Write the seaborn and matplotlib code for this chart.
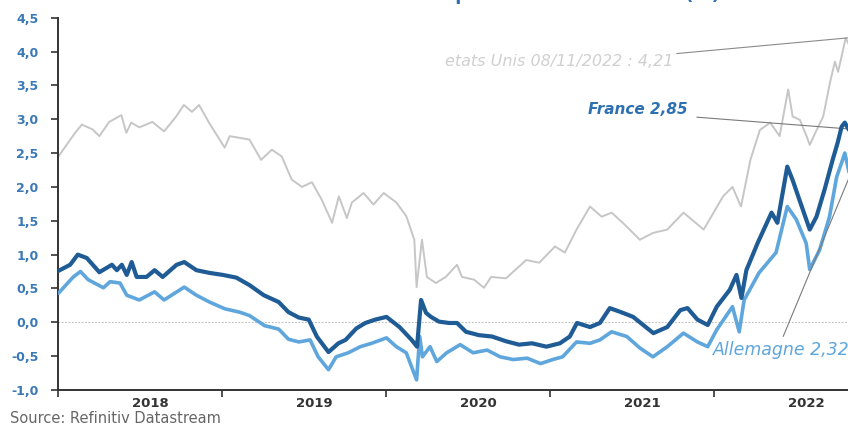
import matplotlib
matplotlib.use("Agg")
import matplotlib.pyplot as plt
import matplotlib.dates as mdates
import matplotlib.ticker as mticker
import pandas as pd
import seaborn as sns

# 10-year government bond yields (%), readings from Refinitiv Datastream
us_dates = [
    "2018-01-02", "2018-02-07", "2018-02-23", "2018-03-19", "2018-04-03", "2018-04-25",
    "2018-05-22", "2018-06-02", "2018-06-13", "2018-07-01", "2018-07-30", "2018-08-25",
    "2018-09-21", "2018-10-08", "2018-10-26", "2018-11-11", "2018-12-03", "2019-01-07",
    "2019-01-18", "2019-03-03", "2019-03-29", "2019-04-22", "2019-05-14", "2019-06-05",
    "2019-06-28", "2019-07-20", "2019-08-11", "2019-09-03", "2019-09-18", "2019-10-06",
    "2019-10-17", "2019-11-12", "2019-12-04", "2019-12-27", "2020-01-24", "2020-02-15",
    "2020-03-04", "2020-03-09", "2020-03-21", "2020-04-01", "2020-04-21", "2020-05-13",
    "2020-06-07", "2020-06-18", "2020-07-15", "2020-08-06", "2020-08-22", "2020-09-24",
    "2020-11-08", "2020-12-07", "2021-01-11", "2021-02-02", "2021-02-28", "2021-03-30",
    "2021-04-25", "2021-05-17", "2021-06-11", "2021-07-19", "2021-08-17", "2021-09-18",
    "2021-10-24", "2021-12-08", "2021-12-30", "2022-01-20", "2022-02-10", "2022-03-01",
    "2022-03-22", "2022-04-12", "2022-05-05", "2022-05-26", "2022-06-14", "2022-06-24",
    "2022-07-10", "2022-07-25", "2022-08-01", "2022-08-17", "2022-08-31", "2022-09-15",
    "2022-09-26", "2022-10-03", "2022-10-11", "2022-10-20", "2022-10-31", "2022-11-08",
]
us_values = [
    2.45, 2.79, 2.92, 2.85, 2.75, 2.96,
    3.06, 2.80, 2.95, 2.88, 2.96, 2.82,
    3.04, 3.21, 3.11, 3.21, 2.95, 2.58,
    2.75, 2.70, 2.40, 2.55, 2.45, 2.11,
    2.00, 2.07, 1.81, 1.47, 1.86, 1.54,
    1.77, 1.91, 1.74, 1.91, 1.77, 1.57,
    1.22, 0.52, 1.22, 0.67, 0.58, 0.67,
    0.85, 0.67, 0.63, 0.51, 0.67, 0.65,
    0.92, 0.88, 1.12, 1.03, 1.37, 1.71,
    1.56, 1.62, 1.47, 1.22, 1.32, 1.37,
    1.62, 1.37, 1.62, 1.86, 2.00, 1.71,
    2.40, 2.84, 2.95, 2.75, 3.44, 3.04,
    2.99, 2.75, 2.62, 2.85, 3.04, 3.54,
    3.85, 3.70, 3.93, 4.20, 4.05, 4.21,
]

fr_dates = [
    "2018-01-02", "2018-01-28", "2018-02-14", "2018-03-06", "2018-04-03", "2018-05-01",
    "2018-05-12", "2018-05-23", "2018-06-03", "2018-06-14", "2018-06-25", "2018-07-17",
    "2018-08-04", "2018-08-22", "2018-09-22", "2018-10-09", "2018-11-05", "2018-12-04",
    "2019-01-03", "2019-02-02", "2019-03-03", "2019-04-04", "2019-05-07", "2019-05-29",
    "2019-06-21", "2019-07-13", "2019-07-31", "2019-08-26", "2019-09-17", "2019-10-03",
    "2019-10-27", "2019-11-16", "2019-12-08", "2020-01-02", "2020-01-31", "2020-02-27",
    "2020-03-10", "2020-03-19", "2020-03-30", "2020-04-10", "2020-04-28", "2020-05-20",
    "2020-06-07", "2020-06-27", "2020-07-26", "2020-08-24", "2020-09-24", "2020-10-23",
    "2020-11-21", "2020-12-23", "2021-01-22", "2021-02-13", "2021-03-01", "2021-03-30",
    "2021-04-21", "2021-05-13", "2021-06-11", "2021-07-04", "2021-08-18", "2021-09-18",
    "2021-10-17", "2021-11-02", "2021-11-24", "2021-12-17", "2022-01-06", "2022-02-04",
    "2022-02-19", "2022-03-02", "2022-03-13", "2022-04-07", "2022-05-08", "2022-05-21",
    "2022-06-12", "2022-06-24", "2022-07-09", "2022-08-01", "2022-08-16", "2022-09-03",
    "2022-09-21", "2022-10-02", "2022-10-11", "2022-10-18", "2022-10-31", "2022-11-08",
]
fr_values = [
    0.76, 0.85, 1.00, 0.95, 0.74, 0.85,
    0.77, 0.85, 0.70, 0.89, 0.67, 0.67,
    0.77, 0.67, 0.85, 0.89, 0.77, 0.73,
    0.70, 0.66, 0.55, 0.40, 0.30, 0.15,
    0.07, 0.04, -0.21, -0.44, -0.31, -0.26,
    -0.09, -0.01, 0.04, 0.08, -0.07, -0.26,
    -0.36, 0.33, 0.14, 0.08, 0.01, -0.01,
    -0.01, -0.14, -0.19, -0.21, -0.28, -0.33,
    -0.31, -0.36, -0.31, -0.21, -0.01, -0.07,
    -0.01, 0.21, 0.14, 0.08, -0.16, -0.07,
    0.18, 0.21, 0.04, -0.04, 0.23, 0.48,
    0.70, 0.36, 0.77, 1.17, 1.62, 1.47,
    2.30, 2.10, 1.81, 1.37, 1.56, 1.96,
    2.40, 2.65, 2.89, 2.95, 2.80, 2.85,
]

de_dates = [
    "2018-01-02", "2018-02-04", "2018-02-20", "2018-03-09", "2018-04-12", "2018-04-27",
    "2018-05-19", "2018-06-03", "2018-07-01", "2018-08-04", "2018-08-25", "2018-10-09",
    "2018-11-05", "2018-12-04", "2019-01-07", "2019-02-09", "2019-03-03", "2019-04-06",
    "2019-05-07", "2019-05-29", "2019-06-21", "2019-07-16", "2019-08-03", "2019-08-26",
    "2019-09-12", "2019-10-09", "2019-11-05", "2019-11-30", "2020-01-02", "2020-01-24",
    "2020-02-15", "2020-03-09", "2020-03-16", "2020-03-22", "2020-04-08", "2020-04-23",
    "2020-05-15", "2020-06-14", "2020-07-13", "2020-08-13", "2020-09-11", "2020-10-10",
    "2020-11-10", "2020-12-10", "2021-01-06", "2021-01-28", "2021-02-28", "2021-03-30",
    "2021-04-21", "2021-05-17", "2021-06-20", "2021-07-19", "2021-08-17", "2021-09-18",
    "2021-10-24", "2021-11-24", "2021-12-17", "2022-01-06", "2022-02-10", "2022-02-25",
    "2022-03-08", "2022-04-10", "2022-05-18", "2022-06-12", "2022-07-02", "2022-07-24",
    "2022-08-01", "2022-08-23", "2022-09-14", "2022-09-30", "2022-10-11", "2022-10-18",
    "2022-10-28", "2022-11-08",
]
de_values = [
    0.43, 0.67, 0.75, 0.63, 0.51, 0.60,
    0.58, 0.40, 0.33, 0.45, 0.33, 0.52,
    0.40, 0.30, 0.20, 0.15, 0.10, -0.05,
    -0.10, -0.25, -0.29, -0.26, -0.51, -0.70,
    -0.51, -0.45, -0.36, -0.31, -0.23, -0.36,
    -0.45, -0.85, -0.21, -0.51, -0.36, -0.58,
    -0.45, -0.33, -0.45, -0.41, -0.51, -0.55,
    -0.53, -0.61, -0.55, -0.51, -0.29, -0.31,
    -0.26, -0.14, -0.21, -0.38, -0.51, -0.36,
    -0.16, -0.29, -0.36, -0.11, 0.23, -0.14,
    0.33, 0.73, 1.03, 1.71, 1.52, 1.17,
    0.78, 1.07, 1.56, 2.15, 2.36, 2.50,
    2.20, 2.32,
]

y_ticks = [-1.0, -0.5, 0.0, 0.5, 1.0, 1.5, 2.0, 2.5, 3.0, 3.5, 4.0, 4.5]

us_label = "etats Unis 08/11/2022 : 4,21"
fr_label = "France 2,85"
de_label = "Allemagne 2,32"
title = "Rendement des emprunts d'État à 10 ans (%)"
source = "Source: Refinitiv Datastream"

GRAY = "#c6c6c6"
DARK_BLUE = "#1f5c96"
LIGHT_BLUE = "#5ea6dc"
TICK_BLUE = "#3a78b6"

us = pd.DataFrame({"date": pd.to_datetime(us_dates), "taux": us_values})
fr = pd.DataFrame({"date": pd.to_datetime(fr_dates), "taux": fr_values})
de = pd.DataFrame({"date": pd.to_datetime(de_dates), "taux": de_values})

sns.set_theme(style="white")
plt.rcParams["font.family"] = ["DejaVu Sans"]

fig = plt.figure(figsize=(8.48, 4.26), dpi=100)
ax = fig.add_axes([0.0684, 0.0845, 0.940, 0.874])

ax.axhline(0, color="#bdbdbd", lw=0.8, ls=(0, (1.5, 1.5)), zorder=1)

sns.lineplot(data=us, x="date", y="taux", ax=ax, color=GRAY, lw=1.4,
             estimator=None, sort=False, zorder=2)
sns.lineplot(data=de, x="date", y="taux", ax=ax, color=LIGHT_BLUE, lw=2.6,
             estimator=None, sort=False, zorder=3)
sns.lineplot(data=fr, x="date", y="taux", ax=ax, color=DARK_BLUE, lw=3.0,
             estimator=None, sort=False, zorder=4)

ax.set_xlim(pd.Timestamp("2018-01-01"), pd.Timestamp("2022-11-10"))
ax.set_ylim(-1.0, 4.5)
ax.set_xlabel("")
ax.set_ylabel("")

# Year boundaries as tick marks, year names placed inside each year
ax.xaxis.set_major_locator(mdates.YearLocator())
ax.xaxis.set_major_formatter(mticker.NullFormatter())
ax.xaxis.set_minor_locator(mdates.MonthLocator(bymonth=7, bymonthday=25))
ax.xaxis.set_minor_formatter(mticker.FuncFormatter(
    lambda v, p: mdates.num2date(v).strftime("%Y")))
ax.tick_params(axis="x", which="major", length=5, width=1.2, color="#333333",
               direction="out", bottom=True)
ax.tick_params(axis="x", which="minor", length=0, pad=5, labelsize=9.5,
               labelcolor="#333333", bottom=True)
for lab in ax.xaxis.get_minorticklabels():
    lab.set_fontweight("bold")

ax.set_yticks(y_ticks)
ax.set_yticklabels([f"{t:.1f}".replace(".", ",") for t in y_ticks])
ax.tick_params(axis="y", length=5, width=1.2, color="#333333", direction="out",
               left=True, pad=9, labelsize=9, labelcolor=TICK_BLUE)
for lab in ax.get_yticklabels():
    lab.set_fontweight("bold")

for side in ("top", "right"):
    ax.spines[side].set_visible(False)
for side in ("left", "bottom"):
    ax.spines[side].set_color("#333333")
    ax.spines[side].set_linewidth(1.4)

# End-of-series call-outs
ax.annotate(us_label, xy=(us["date"].iloc[-1], us["taux"].iloc[-1]),
            xytext=(445, 364), textcoords="figure pixels",
            ha="left", va="center", fontsize=11.5, style="italic", color="#d0d0d0",
            arrowprops=dict(arrowstyle="-", color="#8a8a8a", lw=0.8,
                            relpos=(0.97, 1.0), shrinkA=0, shrinkB=0))
ax.annotate(fr_label, xy=(fr["date"].iloc[-1], fr["taux"].iloc[-1]),
            xytext=(688, 317), textcoords="figure pixels",
            ha="right", va="center", fontsize=11, style="italic",
            fontweight="bold", color="#2e70b2",
            arrowprops=dict(arrowstyle="-", color="#7a7a7a", lw=0.8,
                            relpos=(1.0, 0.0), shrinkA=4, shrinkB=0))
ax.annotate(de_label, xy=(de["date"].iloc[-1], de["taux"].iloc[-1]),
            xytext=(713, 76), textcoords="figure pixels",
            ha="left", va="center", fontsize=12.5, style="italic", color=LIGHT_BLUE,
            annotation_clip=False,
            arrowprops=dict(arrowstyle="-", color="#7a7a7a", lw=0.8,
                            relpos=(0.5, 1.0), shrinkA=1, shrinkB=0))

# Chart heading sits against the top edge of the frame
fig.text(490 / 848, 1 - 0.5 / 426, title, ha="center", va="baseline",
         fontsize=13, fontweight="bold", color="#2e70b2")
fig.text(10 / 848, 3 / 426, source, ha="left", va="baseline",
         fontsize=10.5, color="#666666")

fig.savefig("out.png", dpi=100)
